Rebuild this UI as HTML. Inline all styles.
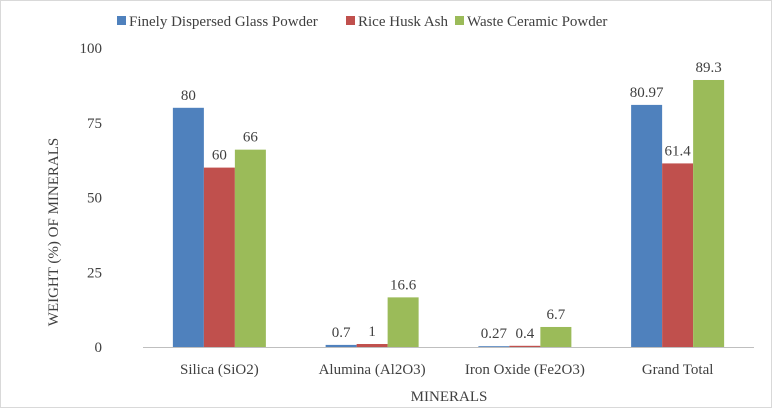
<!DOCTYPE html>
<html><head><meta charset="utf-8"><style>
body{margin:0;background:#fff}
svg, svg text{font-family:"Liberation Serif","Times New Roman","DejaVu Serif",serif}
</style></head><body>
<svg id="chart" width="772" height="408" font-family="Liberation Serif, serif">
<rect x="0.5" y="0.5" width="771" height="407" fill="#fff" stroke="#d9d9d9"/>
<g id="legend"></g>
<g id="yticks"></g>
<g id="bars"></g>
<g id="xlabels"></g>
<line x1="143" y1="347.5" x2="754" y2="347.5" stroke="#bfbfbf"/>
<text x="0" y="0" transform="translate(58,232) rotate(-90)" text-anchor="middle" font-size="15" fill="#404040">WEIGHT (%) OF MINERALS</text>
<text x="449" y="401" text-anchor="middle" font-size="15" fill="#404040">MINERALS</text>
</svg>
<script>
const categories=["Silica (SiO2)","Alumina (Al2O3)","Iron Oxide (Fe2O3)","Grand Total"];
const seriesNames=["Finely Dispersed Glass Powder","Rice Husk Ash","Waste Ceramic Powder"];
const glassValues=[80,0.7,0.27,80.97];
const riceValues=[60,1,0.4,61.4];
const ceramicValues=[66,16.6,6.7,89.3];
const yTicks=[0,25,50,75,100];
const colors=["#4f81bd","#c0504d","#9bbb59"];
const NS="http://www.w3.org/2000/svg";
const x0=143,x1=754,yBase=347,yTop=48;
const yScale=v=>yBase-(v/100)*(yBase-yTop);
const bandW=(x1-x0)/categories.length;
const barW=31;
const FF="Liberation Serif, Times New Roman, serif";
function mk(tag,attrs,parent){const e=document.createElementNS(NS,tag);for(const k in attrs)e.setAttribute(k,attrs[k]);parent.appendChild(e);return e;}
const yt=document.getElementById('yticks');
yTicks.forEach(t=>{const e=mk('text',{x:102,y:yScale(t)+5,'text-anchor':'end','font-size':15,fill:'#404040','font-family':FF},yt);


e.textContent=t;});
const series=[glassValues,riceValues,ceramicValues];
const bg=document.getElementById('bars');
categories.forEach((c,i)=>{
 const cx=x0+bandW*(i+0.5);
 series.forEach((vals,s)=>{
  const v=vals[i];const bx=cx-1.5*barW+s*barW;const y=yScale(v);
  const r=mk('rect',{x:bx,y:y,width:barW,height:Math.max(yBase-y,1),fill:colors[s]},bg);
  
  
  const t=mk('text',{x:bx+barW/2,y:y-8,'text-anchor':'middle','font-size':15,fill:'#404040','font-family':FF},bg);
  
  
  t.textContent=v;
 });
 const l=mk('text',{x:cx,y:374,'text-anchor':'middle','font-size':15,fill:'#404040','font-family':FF},document.getElementById('xlabels'));
 
 
 l.textContent=c;
});
const lg=document.getElementById('legend');
const lx=[117,346,455];
seriesNames.forEach((n,s)=>{
 const r=mk('rect',{x:lx[s],y:16,width:9,height:9,fill:colors[s]},lg);
 
 
 const t=mk('text',{x:lx[s]+12,y:26,'font-size':15,fill:'#404040','font-family':FF},lg);
 
 
 t.textContent=n;
});
</script>
</body></html>
